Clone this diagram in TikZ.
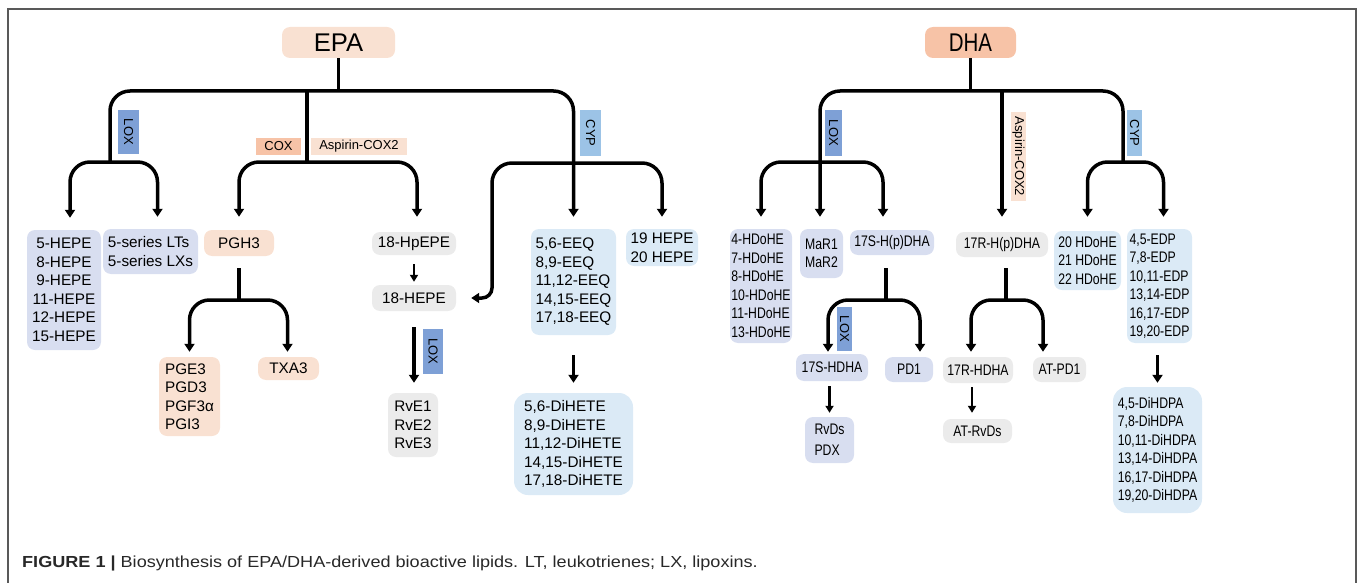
\documentclass[tikz,border=0pt]{standalone}
\usepackage{fontspec}
\setmainfont{Liberation Sans}
\newfontfamily\narrowfont[FakeStretch=0.8]{Liberation Sans}
\newfontfamily\widefont[FakeStretch=1.13]{Liberation Sans}
\usepackage{xcolor}
\definecolor{peach}{RGB}{249,225,210}
\definecolor{salmon}{RGB}{247,195,167}
\definecolor{lavender}{RGB}{216,222,240}
\definecolor{lightgray}{RGB}{235,235,235}
\definecolor{paleblue}{RGB}{219,234,246}
\definecolor{loxblue}{RGB}{126,160,214}
\definecolor{cypblue}{RGB}{156,195,230}
\definecolor{captiongray}{RGB}{40,40,40}
\usepackage{tikz}
\usetikzlibrary{arrows.meta}
\newcommand{\boxfont}{\fontsize{15.3}{18.5}\selectfont}
\newcommand{\dhafont}{\narrowfont\fontsize{15.3}{18.5}\selectfont}
\newcommand{\enzfont}{\fontsize{13}{13}\selectfont}
\tikzset{
    wh/.style 2 args={minimum width=#1pt, minimum height=#2pt},
    cell/.style={rounded corners=8pt, inner sep=0pt, font=\boxfont, align=center},
    dhacell/.style={cell, font=\dhafont},
    enz/.style={inner sep=0pt, font=\enzfont},
    trunk/.style={line width=3.5pt, rounded corners=20pt},
    link/.style={line width=2.5pt},
    tip/.style={-{Triangle[width=10pt,length=8pt]}},
    smalltip/.style={-{Triangle[width=8pt,length=7pt]}}
}

\begin{document}
\begin{tikzpicture}[x=1pt, y=-1pt]
    \useasboundingbox (0,0) rectangle (1357,583);
    \draw[black!65, line width=1.2pt] (8,583) -- (8,9) -- (1356,9) -- (1356,583);

    % EPA
    \node[cell, fill=peach, wh={113}{31}, font=\fontsize{25.6}{25.6}\selectfont] (epa) at (338.5,42.5) {EPA};
    \node[enz, fill=loxblue, rotate=-90, wh={44}{21}] (lox1) at (128.5,132) {LOX};
    \node[enz, fill=salmon, wh={45}{17}] (cox) at (278.5,146.5) {COX};
    \node[enz, fill=peach, wh={96}{17}] (asp1) at (359,146.5) {Aspirin-COX2};
    \node[enz, fill=cypblue, rotate=-90, wh={46}{21}] (cyp1) at (590.5,133) {CYP};

    \node[cell, fill=lavender, wh={74}{120}] (hepe) at (64,290) {5-HEPE\\8-HEPE\\9-HEPE\\11-HEPE\\12-HEPE\\15-HEPE};
    \node[cell, fill=lavender, wh={95}{45}, align=left] (lts) at (150.5,251.5) {5-series LTs\\5-series LXs};
    \node[cell, fill=peach, wh={70}{26}] (pgh) at (239,243) {PGH3};
    \node[cell, fill=lightgray, wh={84}{23}] (hpepe) at (414,243.5) {18-HpEPE};
    \node[cell, fill=lightgray, wh={84}{26}] (hepe18) at (414,298) {18-HEPE};
    \node[cell, fill=paleblue, wh={85}{106}, align=left] (eeq) at (573.5,282) {5,6-EEQ\\8,9-EEQ\\11,12-EEQ\\14,15-EEQ\\17,18-EEQ};
    \node[cell, fill=paleblue, wh={72}{37}] (h1920) at (662,247.5) {19 HEPE\\20 HEPE};
    \node[cell, fill=peach, wh={61}{79}, align=left] (pge) at (189.5,396.5) {PGE3\\PGD3\\PGF3α\\PGI3};
    \node[cell, fill=peach, wh={61}{23}] (txa) at (288.5,368.5) {TXA3};
    \node[enz, fill=loxblue, rotate=-90, wh={45}{20}] (lox2) at (433,351.5) {LOX};
    \node[cell, fill=lightgray, wh={50}{64}] (rve) at (413,425) {RvE1\\RvE2\\RvE3};
    \node[cell, fill=paleblue, wh={119}{102}, align=left, rounded corners=14pt] (dihete) at (573.5,444) {5,6-DiHETE\\8,9-DiHETE\\11,12-DiHETE\\14,15-DiHETE\\17,18-DiHETE};

    \coordinate (epa-bar) at (338.5,91);
    \coordinate (epa-lox) at (110,162);
    \coordinate (epa-cox) at (307,162);
    \coordinate (epa-cyp) at (573.5,163);
    \coordinate (cyp-bend) at (492,280);
    \coordinate (pgh-split) at (239,300);

    \draw[trunk] (epa) -- (epa-bar);
    \draw[trunk, tip, shorten >=12pt] (epa-lox) |- (epa-bar) -| (eeq.north);
    \draw[trunk] (epa-bar -| epa-cox) -- (epa-cox);
    \draw[trunk, tip, shorten >=12pt] (epa-lox) -| ([xshift=6pt]hepe.north);
    \draw[trunk, tip, shorten >=12pt] (epa-lox) -| ([xshift=7pt]lts.north);
    \draw[trunk, tip, shorten >=13pt] (epa-cox) -| (pgh.north);
    \draw[trunk, tip, shorten >=15pt] (epa-cox) -| ([xshift=3pt]hpepe.north);
    \draw[trunk, tip, shorten >=12pt] (epa-cyp) -| (h1920.north);
    \draw[trunk] (epa-cyp) -| (cyp-bend);
    \draw[trunk, tip, rounded corners=10pt, shorten >=15pt] (cyp-bend) |- (hepe18.east);
    \draw[trunk, shorten <=12pt] (pgh) -- (pgh-split);
    \draw[trunk, tip, shorten >=5pt] (pgh-split) -| (pge.north);
    \draw[trunk, tip, shorten >=5pt] (pgh-split) -| ([xshift=-1pt]txa.north);
    \draw[link, smalltip, shorten <=9pt, shorten >=3pt] (hpepe) -- (hepe18);
    \draw[trunk, tip, shorten <=16pt, shorten >=10pt] (hepe18.south) -- (hepe18.south |- rve.north);
    \draw[trunk, tip, shorten <=20pt, shorten >=10pt] (eeq) -- (dihete);

    % DHA
    \node[cell, fill=salmon, wh={91}{31}, font=\narrowfont\fontsize{25.6}{25.6}\selectfont] (dha) at (970.5,42.5) {DHA};
    \node[enz, fill=loxblue, rotate=-90, wh={46}{17}] (lox3) at (833.5,133) {LOX};
    \node[enz, fill=peach, rotate=-90, wh={89}{15}] (asp2) at (1018.5,156.5) {Aspirin-COX2};
    \node[enz, fill=cypblue, rotate=-90, wh={46}{15}] (cyp2) at (1134.5,133) {CYP};

    \node[dhacell, fill=lavender, wh={62}{114}, align=left] (hdohe) at (761,286) {4-HDoHE\\7-HDoHE\\8-HDoHE\\10-HDoHE\\11-HDoHE\\13-HDoHE};
    \node[dhacell, fill=lavender, wh={43}{49}] (mar) at (821.5,253.5) {MaR1\\MaR2};
    \node[dhacell, fill=lavender, wh={84}{25}] (hpdhaS) at (892,242.5) {17S-H(p)DHA};
    \node[dhacell, fill=lightgray, wh={92}{25}] (hpdhaR) at (1002,244.5) {17R-H(p)DHA};
    \node[dhacell, fill=paleblue, wh={67}{59}] (hdohe20) at (1087.5,260.5) {20 HDoHE\\21 HDoHE\\22 HDoHE};
    \node[dhacell, fill=paleblue, wh={65}{114}, align=left] (edp) at (1159.5,286) {4,5-EDP\\7,8-EDP\\10,11-EDP\\13,14-EDP\\16,17-EDP\\19,20-EDP};
    \node[enz, fill=loxblue, rotate=-90, wh={44}{15}] (lox4) at (844.5,329) {LOX};
    \node[dhacell, fill=lavender, wh={72}{27}] (hdhaS) at (832,367.5) {17S-HDHA};
    \node[dhacell, fill=lavender, wh={48}{25}] (pd) at (909,369.5) {PD1};
    \node[dhacell, fill=lightgray, wh={70}{26}] (hdhaR) at (978,370) {17R-HDHA};
    \node[dhacell, fill=lightgray, wh={53}{25}] (atpd) at (1059.5,369.5) {AT-PD1};
    \node[dhacell, fill=lavender, wh={49}{46}, align=left, font=\narrowfont\fontsize{15.3}{21}\selectfont] (rvd) at (829.5,440) {RvDs\\PDX};
    \node[dhacell, fill=lightgray, wh={69}{24}] (atrvd) at (977.5,431) {AT-RvDs};
    \node[dhacell, fill=paleblue, wh={89}{126}, align=left, rounded corners=14pt] (dihdpa) at (1157.5,450) {4,5-DiHDPA\\7,8-DiHDPA\\10,11-DiHDPA\\13,14-DiHDPA\\16,17-DiHDPA\\19,20-DiHDPA};

    \coordinate (dha-bar) at (970.5,91);
    \coordinate (dha-lox) at (820,162);
    \coordinate (dha-cyp) at (1123,162);
    \coordinate (hpdhaS-split) at (886,300);
    \coordinate (hpdhaR-split) at (1006,300);

    \draw[trunk] (dha) -- (dha-bar);
    \draw[trunk, tip, shorten >=12pt] (dha-cyp) |- (dha-bar) -| ([xshift=-1.5pt]mar.north);
    \draw[trunk, tip, shorten >=15pt] (dha-bar -| hpdhaR) -- (hpdhaR);
    \draw[trunk, tip, shorten >=12pt] (dha-lox) -| (hdohe.north);
    \draw[trunk, tip, shorten >=13pt] (dha-lox) -| ([xshift=-9pt]hpdhaS.north);
    \draw[trunk, tip, shorten >=14pt] (dha-cyp) -| (hdohe20.north);
    \draw[trunk, tip, shorten >=12pt] (dha-cyp) -| ([xshift=4pt]edp.north);
    \draw[trunk, shorten <=13pt] ([xshift=-6pt]hpdhaS.south) -- (hpdhaS-split);
    \draw[trunk, tip, shorten >=2pt] (hpdhaS-split) -| ([xshift=-4pt]hdhaS.north);
    \draw[trunk, tip, shorten >=5pt] (hpdhaS-split) -| ([xshift=11pt]pd.north);
    \draw[trunk, shorten <=11pt] ([xshift=4pt]hpdhaR.south) -- (hpdhaR-split);
    \draw[trunk, tip, shorten >=5pt] (hpdhaR-split) -| ([xshift=-7pt]hdhaR.north);
    \draw[trunk, tip, shorten >=5pt] (hpdhaR-split) -| ([xshift=-16.5pt]atpd.north);
    \draw[link, smalltip, shorten <=5pt, shorten >=4pt] (rvd.north |- hdhaS.south) -- (rvd.north);
    \draw[link, smalltip, shorten <=4pt, shorten >=6pt] ([xshift=-6pt]hdhaR.south) -- ([xshift=-5.5pt]atrvd.north);
    \draw[trunk, tip, shorten <=12pt, shorten >=4pt] (dihdpa.north |- edp.south) -- (dihdpa.north);

    \node[anchor=base west, inner sep=0pt, text=captiongray, font=\widefont\fontsize{16}{16}\selectfont] (caption) at (22,567) {\textbf{FIGURE 1 |} Biosynthesis of EPA/DHA-derived bioactive lipids. LT, leukotrienes; LX, lipoxins.};
\end{tikzpicture}
\end{document}
